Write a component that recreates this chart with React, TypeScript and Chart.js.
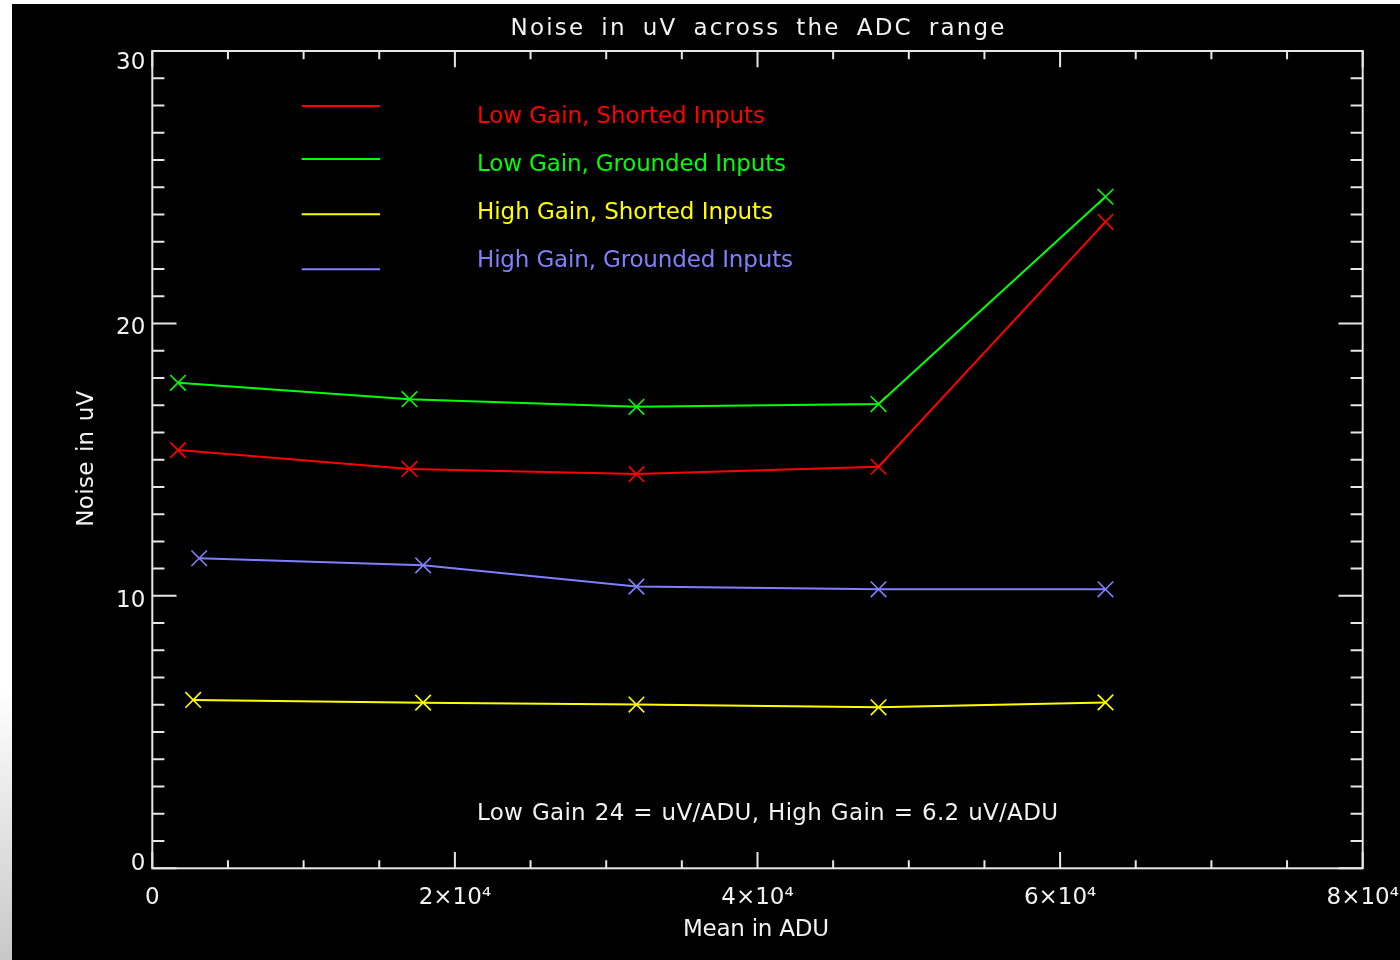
import React, { useEffect, useRef } from 'react';
import { Chart, registerables } from 'chart.js';

Chart.register(...registerables);

// ---- texts ----
const chartTitle = 'Noise in uV across the ADC range';
const xAxisTitle = 'Mean in ADU';
const yAxisTitle = 'Noise in uV';
const noteText = 'Low Gain 24 = uV/ADU, High Gain = 6.2 uV/ADU';

// ---- series ----
const seriesLabels = [
  'Low Gain, Shorted Inputs',
  'Low Gain, Grounded Inputs',
  'High Gain, Shorted Inputs',
  'High Gain, Grounded Inputs',
];
const seriesColors = ['#ff0000', '#00ff00', '#ffff00', '#8080ff'];

const xLowShorted = [1700, 17000, 32000, 48000, 63000];
const yLowShorted = [15.35, 14.66, 14.47, 14.74, 23.73];
const xLowGrounded = [1700, 17000, 32000, 48000, 63000];
const yLowGrounded = [17.82, 17.22, 16.94, 17.04, 24.65];
const xHighShorted = [2700, 17900, 32000, 48000, 63000];
const yHighShorted = [6.18, 6.08, 6.01, 5.91, 6.09];
const xHighGrounded = [3100, 17900, 32000, 48000, 63000];
const yHighGrounded = [11.38, 11.12, 10.34, 10.24, 10.24];

// ---- axes ----
const xMin = 0;
const xMax = 80000;
const xMinorStep = 5000;
const xTickValues = [0, 20000, 40000, 60000, 80000];
const xTickLabels = ['0', '2×10⁴', '4×10⁴', '6×10⁴', '8×10⁴'];
const yMin = 0;
const yMax = 30;
const yMinorStep = 1;
const yTickValues = [0, 10, 20, 30];
const yTickLabels = ['0', '10', '20', '30'];

const FONT = '"DejaVu Sans", "Noto Sans", sans-serif';
const TEXT_COLOR = '#f2f2f2';
const AXIS_COLOR = '#e6e6e6';

function drawFitted(
  ctx: CanvasRenderingContext2D,
  text: string,
  x: number,
  y: number,
  size: number,
  target: number,
  align: 'left' | 'center',
  color: string,
  letter = 0.6
) {
  const c = ctx as any;
  ctx.font = `${size}px ${FONT}`;
  c.letterSpacing = '0px';
  c.wordSpacing = '0px';
  const w = ctx.measureText(text).width;
  const gaps = Math.max(1, text.length - 1);
  const spaces = (text.match(/ /g) || []).length;
  let ls = letter;
  let ws = 0;
  const rest = target - w - ls * gaps;
  if (spaces > 0 && rest > 0) {
    ws = rest / spaces;
  } else {
    ls = (target - w) / gaps;
  }
  c.letterSpacing = `${ls}px`;
  c.wordSpacing = `${ws}px`;
  ctx.textAlign = 'left';
  ctx.textBaseline = 'alphabetic';
  ctx.fillStyle = color;
  const left = align === 'center' ? x - target / 2 : x;
  ctx.fillText(text, left, y);
  c.letterSpacing = '0px';
  c.wordSpacing = '0px';
}

export default function App() {
  const ref = useRef<HTMLCanvasElement>(null);

  useEffect(() => {
    const canvas = ref.current;
    if (!canvas) return;

    const pairs = (xs: number[], ys: number[]) => xs.map((x, i) => ({ x, y: ys[i] }));
    const seriesData = [
      pairs(xLowShorted, yLowShorted),
      pairs(xLowGrounded, yLowGrounded),
      pairs(xHighShorted, yHighShorted),
      pairs(xHighGrounded, yHighGrounded),
    ];

    const datasets = seriesData.map((d, i) => ({
      label: seriesLabels[i],
      data: d,
      borderColor: seriesColors[i],
      backgroundColor: seriesColors[i],
      pointBorderColor: seriesColors[i],
      pointBackgroundColor: seriesColors[i],
      borderWidth: 2,
      pointStyle: 'crossRot' as const,
      pointRadius: 11,
      pointHoverRadius: 11,
      pointBorderWidth: 1.6,
      tension: 0,
      fill: false,
    }));

    const framePlugin = {
      id: 'idlFrame',
      beforeDatasetsDraw(chart: any) {
        const { ctx, chartArea: a, scales } = chart;
        const xs = scales.x;
        const ys = scales.y;
        const w = a.right - a.left;
        const h = a.bottom - a.top;
        ctx.save();
        ctx.strokeStyle = AXIS_COLOR;
        ctx.lineWidth = 2;
        ctx.strokeRect(a.left, a.top, w, h);
        ctx.beginPath();
        xs.ticks.forEach((t: any) => {
          const px = xs.getPixelForValue(t.value);
          const len = (xTickValues.includes(t.value) ? 0.02 : 0.01) * h;
          ctx.moveTo(px, a.bottom);
          ctx.lineTo(px, a.bottom - len);
          ctx.moveTo(px, a.top);
          ctx.lineTo(px, a.top + len);
        });
        ys.ticks.forEach((t: any) => {
          const py = ys.getPixelForValue(t.value);
          const len = (yTickValues.includes(t.value) ? 0.02 : 0.01) * w;
          ctx.moveTo(a.left, py);
          ctx.lineTo(a.left + len, py);
          ctx.moveTo(a.right, py);
          ctx.lineTo(a.right - len, py);
        });
        ctx.stroke();
        ctx.restore();
      },
    };

    const textPlugin = {
      id: 'idlText',
      afterDraw(chart: any) {
        const { ctx, chartArea: a } = chart;
        ctx.save();
        const cx = (a.left + a.right) / 2;
        // title
        drawFitted(ctx, chartTitle, cx, 30.5, 23, 494, 'center', TEXT_COLOR, 2.2);
        // legend
        const lineYs = [102, 155, 210.3, 265.3];
        const textYs = [118.5, 166.8, 215.1, 263.4];
        const legendWidths = [288, 309, 296, 316];
        chart.data.datasets.forEach((ds: any, i: number) => {
          ctx.strokeStyle = ds.borderColor;
          ctx.lineWidth = 2;
          ctx.beginPath();
          ctx.moveTo(289.7, lineYs[i]);
          ctx.lineTo(368, lineYs[i]);
          ctx.stroke();
          drawFitted(ctx, ds.label, 465, textYs[i], 23, legendWidths[i], 'left', ds.borderColor, 0);
        });
        // note
        drawFitted(ctx, noteText, 465, 815.7, 23, 581, 'left', TEXT_COLOR, 0.3);
        // x title
        drawFitted(ctx, xAxisTitle, cx - 1.5, 932, 23, 146, 'center', TEXT_COLOR, 0);
        // y title
        ctx.save();
        ctx.translate(81, (a.top + a.bottom) / 2 - 1);
        ctx.rotate(-Math.PI / 2);
        drawFitted(ctx, yAxisTitle, 0, 0, 23, 136, 'center', TEXT_COLOR, 0.3);
        ctx.restore();
        ctx.restore();
      },
    };

    const chart = new Chart(canvas, {
      type: 'line',
      data: { datasets: datasets as any },
      options: {
        responsive: false,
        animation: false,
        devicePixelRatio: 1,
        events: [],
        layout: { padding: { left: 0, right: 37.3, top: 47, bottom: 0 } },
        plugins: {
          legend: { display: false },
          title: { display: false },
          tooltip: { enabled: false },
        },
        scales: {
          x: {
            type: 'linear',
            min: xMin,
            max: xMax,
            grid: { display: false, drawTicks: false },
            border: { display: false },
            ticks: {
              stepSize: xMinorStep,
              autoSkip: false,
              maxRotation: 0,
              minRotation: 0,
              padding: 15.5,
              color: TEXT_COLOR,
              font: { family: FONT, size: 23 },
              callback: (v: any) => {
                const i = xTickValues.indexOf(Number(v));
                return i >= 0 ? xTickLabels[i] : '';
              },
            },
            afterFit: (s: any) => {
              s.height = 91.7;
              s.paddingLeft = 0;
              s.paddingRight = 0;
            },
          },
          y: {
            type: 'linear',
            min: yMin,
            max: yMax,
            grid: { display: false, drawTicks: false },
            border: { display: false },
            ticks: {
              stepSize: yMinorStep,
              autoSkip: false,
              padding: 7,
              color: TEXT_COLOR,
              font: (c: any) => {
                const v = c && c.tick ? c.tick.value : NaN;
                const lh = v === yMax ? '24px' : v === yMin ? '9px' : '9.8px';
                return { family: FONT, size: 23, lineHeight: lh };
              },
              callback: (v: any) => {
                const n = Number(v);
                const i = yTickValues.indexOf(n);
                if (i < 0) return '';
                const lab = yTickLabels[i];
                return n === yMin ? [lab, ''] : ['', lab];
              },
            },
            afterFit: (s: any) => {
              s.width = 140.3;
              s.paddingTop = 0;
              s.paddingBottom = 0;
            },
          },
        },
      },
      plugins: [framePlugin, textPlugin],
    });

    return () => {
      chart.destroy();
    };
  }, []);

  return (
    <div
      style={{
        position: 'fixed',
        left: 0,
        top: 0,
        width: 1400,
        height: 960,
        overflow: 'hidden',
        background: 'linear-gradient(to bottom, #ffffff 0%, #ffffff 72%, #c8c8c8 100%)',
      }}
    >
      <canvas
        ref={ref}
        width={1388}
        height={956}
        style={{ position: 'absolute', left: 12, top: 4, width: 1388, height: 956, background: '#000' }}
      />
    </div>
  );
}
